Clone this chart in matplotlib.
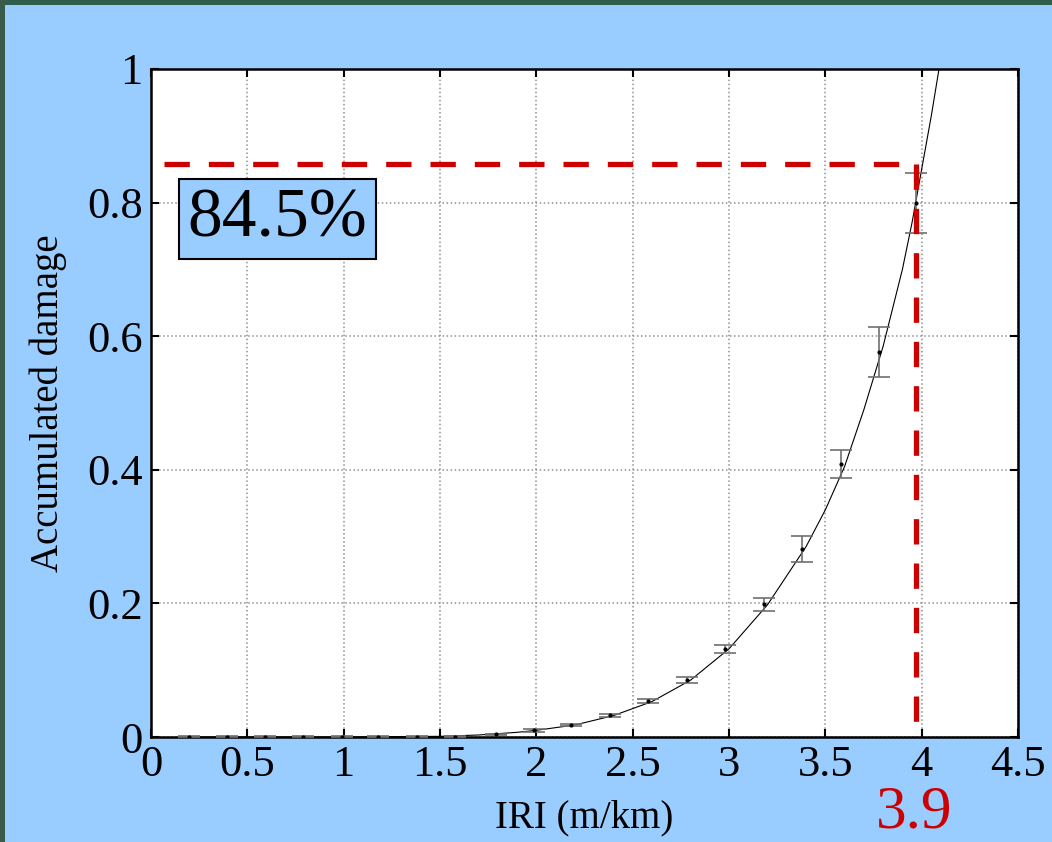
import matplotlib
matplotlib.use('Agg')
import matplotlib.pyplot as plt
from matplotlib.patches import Rectangle

# error-bar points (mean, upper, lower)
iri = [0.2, 0.395, 0.59, 0.79, 0.99, 1.18, 1.38, 1.58, 1.79, 1.99,
       2.18, 2.38, 2.58, 2.78, 2.98, 3.18, 3.38, 3.58, 3.78, 3.97]
dmg_upper = [0.001, 0.001, 0.001, 0.001, 0.001, 0.001, 0.001, 0.001, 0.005, 0.012,
             0.020, 0.035, 0.057, 0.090, 0.138, 0.208, 0.301, 0.430, 0.614, 0.845]
dmg_lower = [0.0, 0.0, 0.0, 0.0, 0.0, 0.0, 0.0, 0.0, 0.003, 0.008,
             0.016, 0.030, 0.051, 0.081, 0.126, 0.189, 0.262, 0.388, 0.539, 0.754]

# fitted curve
curve_x = [0.15, 1.0, 1.5, 1.7, 1.9, 2.0, 2.2, 2.4, 2.6, 2.8, 3.0, 3.2, 3.4,
           3.5, 3.6, 3.7, 3.8, 3.9, 3.95, 4.0, 4.05, 4.09]
curve_y = [0.0, 0.0, 0.001, 0.003, 0.007, 0.010, 0.018, 0.032, 0.053, 0.085, 0.132,
           0.198, 0.285, 0.34, 0.405, 0.49, 0.585, 0.70, 0.77, 0.85, 0.93, 1.0]

target_x = 3.97
target_y = 0.858
pct_text = '84.5%'
iri_text = '3.9'

plt.rcParams['font.family'] = ['Liberation Serif', 'DejaVu Serif']

fig = plt.figure(figsize=(10.52, 8.42), dpi=100)
fig.patch.set_facecolor('#99CCFF')
# dark border strips on top and left
fig.patches.append(Rectangle((0, 1 - 5/842), 1, 5/842, transform=fig.transFigure,
                             facecolor='#2F5E4C', edgecolor='none', zorder=0))
fig.patches.append(Rectangle((0, 0), 5/1052, 1, transform=fig.transFigure,
                             facecolor='#3A5A4A', edgecolor='none', zorder=0))

ax = fig.add_axes([0.1435, 0.1247, 0.8242, 0.7934])
ax.set_facecolor('white')

ax.plot(curve_x, curve_y, color='black', lw=0.8, zorder=3)

mean = [(u + l) / 2 for u, l in zip(dmg_upper, dmg_lower)]
err = [(u - l) / 2 for u, l in zip(dmg_upper, dmg_lower)]
ax.errorbar(iri, mean, yerr=err, fmt='.', color='black', ms=4,
            ecolor='#707070', elinewidth=1.2, capsize=8, capthick=1.2, zorder=4)

ax.plot([0.07, target_x], [target_y, target_y], color='#CC0000', lw=3.8,
        dashes=(4.8, 3.6), dash_capstyle='butt', zorder=5)
ax.plot([target_x, target_x], [target_y, 0.01], color='#CC0000', lw=3.8,
        dashes=(4.8, 3.6), dash_capstyle='butt', zorder=5)

ax.set_xlim(0, 4.5)
ax.set_ylim(0, 1)
ax.set_xticks([0, 0.5, 1, 1.5, 2, 2.5, 3, 3.5, 4, 4.5])
ax.set_xticklabels(['0', '0.5', '1', '1.5', '2', '2.5', '3', '3.5', '4', '4.5'])
ax.set_yticks([0, 0.2, 0.4, 0.6, 0.8, 1])
ax.set_yticklabels(['0', '0.2', '0.4', '0.6', '0.8', '1'])
ax.tick_params(direction='in', top=True, right=True, length=6, width=1.5,
               labelsize=32, pad=6)
ax.grid(True, color='#909090', linestyle=':', lw=1.1)
for s in ax.spines.values():
    s.set_linewidth(1.8)

ax.set_xlabel('IRI (m/km)', fontsize=28, labelpad=10)
ax.set_ylabel('Accumulated damage', fontsize=28, labelpad=14)

ax.text(0.19, 0.775, pct_text, fontsize=50, ha='left', va='center',
        bbox=dict(boxstyle='square,pad=0.12', facecolor='#99CCFF',
                  edgecolor='black', lw=1.5), zorder=6)
fig.text(914/1052, 1.5/842, iri_text, color='#CC0000', fontsize=44,
         ha='center', va='bottom')

fig.savefig('out.png', dpi=100, facecolor=fig.get_facecolor())
